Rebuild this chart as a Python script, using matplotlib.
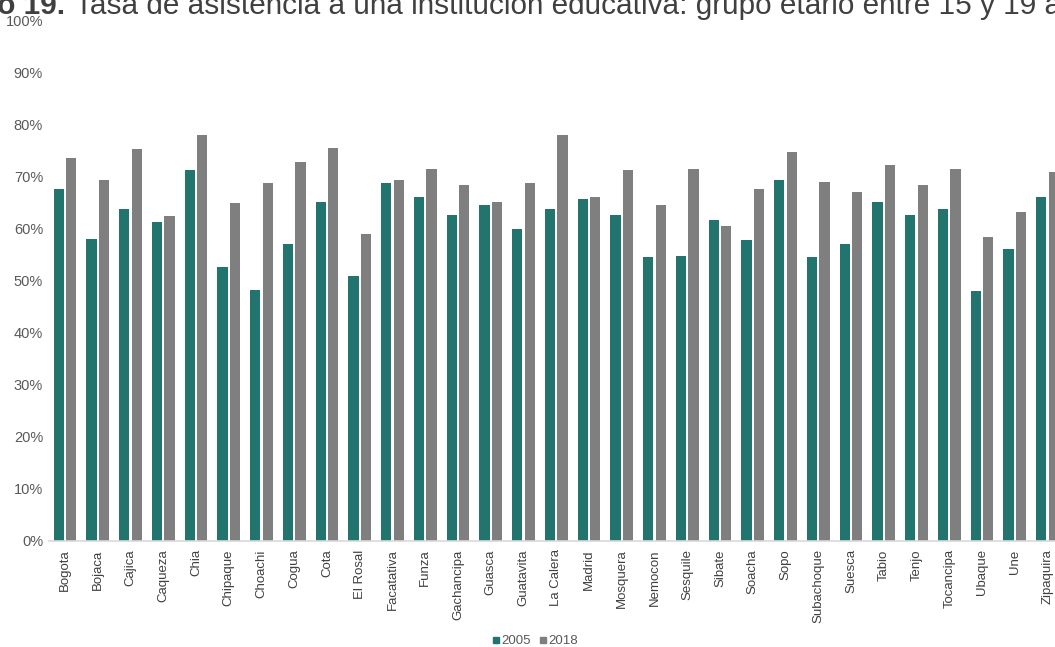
import matplotlib
matplotlib.use("Agg")
import matplotlib.pyplot as plt
import numpy as np
from matplotlib.lines import Line2D
from matplotlib.ticker import FuncFormatter

plt.rcParams["font.family"] = ["Liberation Sans", "DejaVu Sans"]

municipios = [
    "Bogota", "Bojaca", "Cajica", "Caqueza", "Chia", "Chipaque", "Choachi",
    "Cogua", "Cota", "El Rosal", "Facatativa", "Funza", "Gachancipa",
    "Guasca", "Guatavita", "La Calera", "Madrid", "Mosquera", "Nemocon",
    "Sesquile", "Sibate", "Soacha", "Sopo", "Subachoque", "Suesca", "Tabio",
    "Tenjo", "Tocancipa", "Ubaque", "Une", "Zipaquira",
]
tasa_2005 = [
    67.7, 58.1, 63.8, 61.3, 71.3, 52.7, 48.3, 57.1, 65.2, 51.0, 68.8, 66.2,
    62.7, 64.6, 60.0, 63.8, 65.8, 62.7, 54.6, 54.8, 61.7, 57.9, 69.4, 54.6,
    57.1, 65.2, 62.7, 63.8, 48.1, 56.2, 66.2,
]
tasa_2018 = [
    73.7, 69.4, 75.4, 62.5, 78.1, 65.0, 68.8, 72.9, 75.6, 59.0, 69.4, 71.5,
    68.5, 65.2, 68.8, 78.1, 66.2, 71.3, 64.6, 71.5, 60.6, 67.7, 74.8, 69.0,
    67.1, 72.3, 68.5, 71.5, 58.5, 63.3, 71.0,
]
y_ticks = [0, 10, 20, 30, 40, 50, 60, 70, 80, 90, 100]

TEAL = "#22746f"
GRAY = "#7f7f7f"

W, H = 1055, 647
fig = plt.figure(figsize=(W / 100, H / 100), dpi=100)
# axes run past the right edge, the original is cropped there
ax = fig.add_axes([48.6 / W, 106 / H, 1015.3 / W, 520 / H])

x = np.arange(len(municipios))
ax.bar(x - 0.19, tasa_2005, width=0.31, color=TEAL, label="2005")
ax.bar(x + 0.19, tasa_2018, width=0.31, color=GRAY, label="2018")

ax.set_xlim(-0.5, len(municipios) - 0.5)
ax.set_ylim(0, 100)
ax.set_yticks(y_ticks)
ax.yaxis.set_major_formatter(FuncFormatter(lambda v, _: f"{v:.0f}%"))
ax.set_xticks(x)
ax.set_xticklabels(municipios, rotation=90, fontsize=9.5, color="#404040")
ax.tick_params(axis="y", length=0, pad=4, labelsize=10.5, labelcolor="#595959")
ax.tick_params(axis="x", length=0, pad=6)
for s in ("top", "right", "left"):
    ax.spines[s].set_visible(False)
ax.spines["bottom"].set_color("#d9d9d9")
ax.spines["bottom"].set_linewidth(1.2)

handles = [
    Line2D([], [], marker="s", color=TEAL, linestyle="none", markersize=5),
    Line2D([], [], marker="s", color=GRAY, linestyle="none", markersize=5),
]
fig.legend(handles, ["2005", "2018"], loc="center", bbox_to_anchor=(535 / W, 1 - 641 / H),
           ncol=2, frameon=False, fontsize=9.5, handlelength=0.6, handletextpad=0.1,
           columnspacing=0.6, labelcolor="#595959")

fig.text(65 / W, 1 - 14 / H, "Gráfico 19.", ha="right", va="baseline",
         fontsize=21.4, fontweight="bold", color="#404040")
fig.text(75 / W, 1 - 14 / H,
         "Tasa de asistencia a una institución educativa: grupo etario entre 15 y 19 años",
         ha="left", va="baseline", fontsize=21.4, color="#404040")

fig.savefig("out.png", dpi=100)
